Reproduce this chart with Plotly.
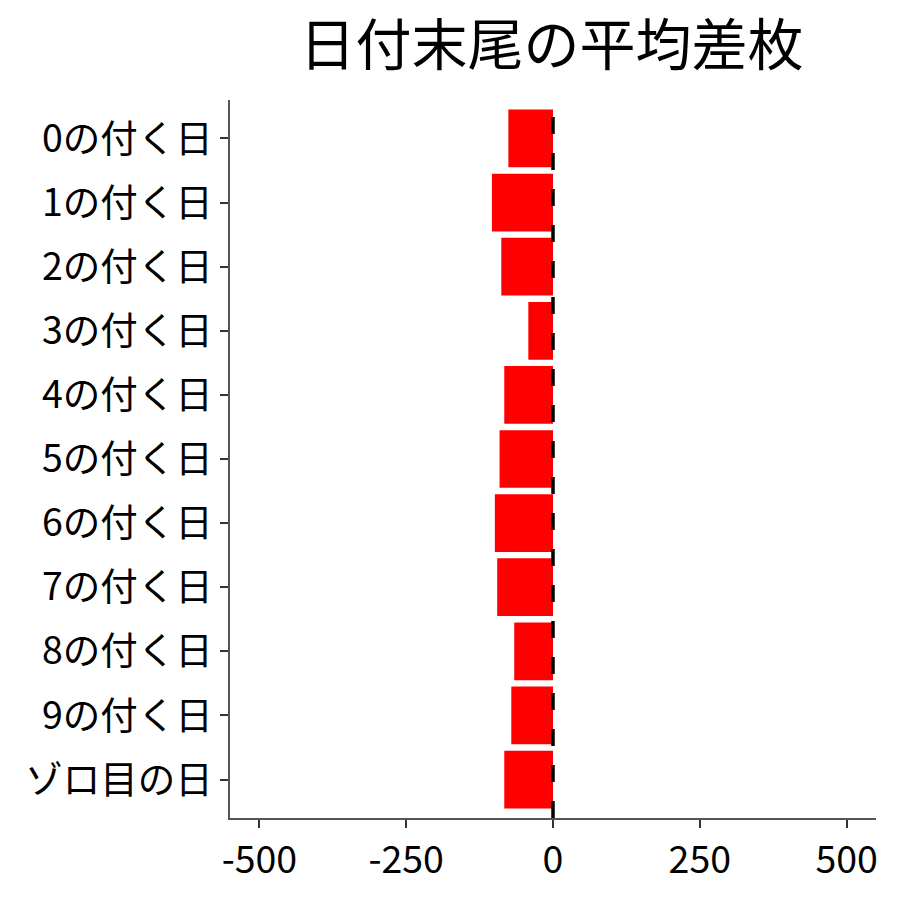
import plotly.graph_objects as go

categories = ["0の付く日", "1の付く日", "2の付く日", "3の付く日", "4の付く日",
              "5の付く日", "6の付く日", "7の付く日", "8の付く日", "9の付く日", "ゾロ目の日"]
values = [-76, -104, -88, -42, -83, -91, -99, -95, -66, -71, -83]
x_ticks = [-500, -250, 0, 250, 500]
title_text = "日付末尾の平均差枚"

FONT = "Noto Sans CJK JP"

fig = go.Figure()
fig.add_trace(go.Bar(
    x=values, y=categories, orientation="h",
    marker=dict(color="#FF0000", line=dict(width=0)),
    width=0.9,
))
fig.add_vline(x=0, line=dict(color="black", width=3.5, dash="17px,19px"), layer="above")

fig.update_layout(
    width=900, height=900,
    paper_bgcolor="white", plot_bgcolor="white",
    margin=dict(l=222, r=32, t=92, b=90),
    showlegend=False,
    font=dict(family=FONT, color="black"),
    title=dict(text=title_text, x=0.604, xanchor="center", y=0.959, yanchor="middle",
               font=dict(family=FONT, size=56, color="black")),
    xaxis=dict(range=[-550, 550], tickvals=x_ticks, ticktext=[str(v) for v in x_ticks],
               showgrid=False, zeroline=False, showline=True, linecolor="#555555", linewidth=1.5,
               ticks="outside", ticklen=8, tickwidth=2, tickcolor="#333333",
               tickfont=dict(family=FONT, size=37.5, color="black")),
    yaxis=dict(categoryorder="array", categoryarray=categories, autorange=False,
               range=[10.6, -0.6],
               showgrid=False, zeroline=False, showline=True, linecolor="#555555", linewidth=1.5,
               ticks="outside", ticklen=8, tickwidth=2, tickcolor="#333333",
               tickfont=dict(family=FONT, size=37.5, color="black")),
)

fig.write_html("out.html")
